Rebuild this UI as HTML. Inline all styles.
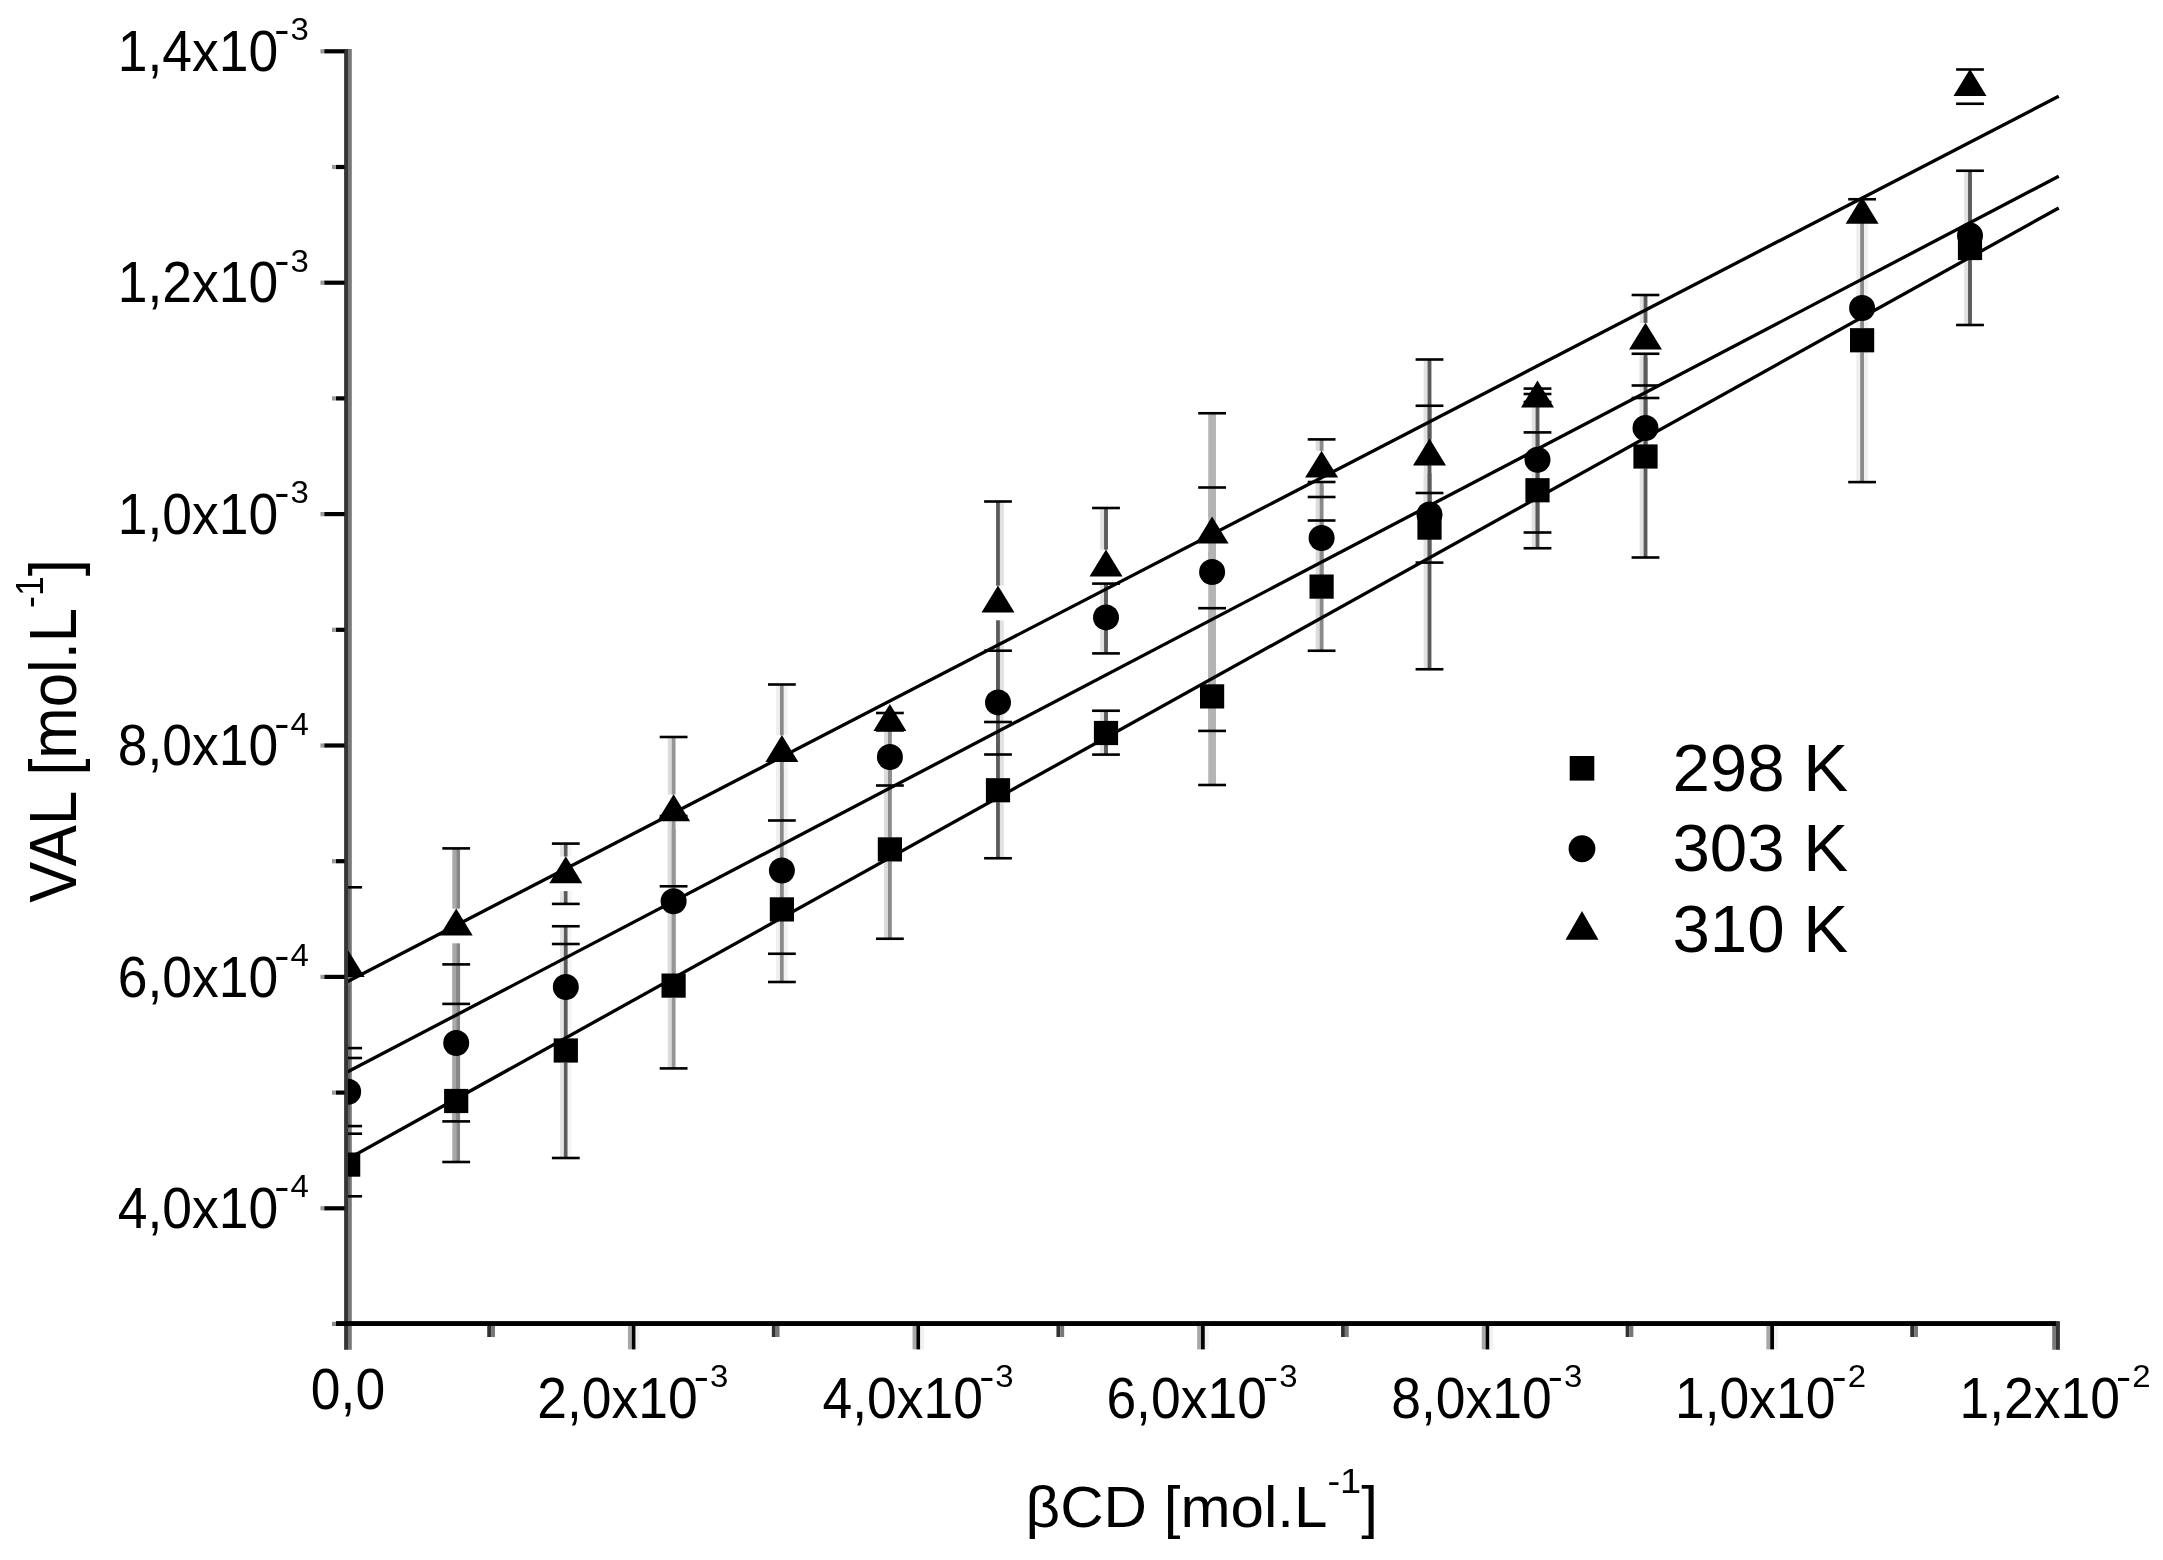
<!DOCTYPE html>
<html lang="en"><head><meta charset="utf-8"><title>VAL solubility vs βCD</title>
<style>html,body{margin:0;padding:0;background:#fff}svg{display:block}svg text{font-family:"Liberation Sans",sans-serif}</style></head>
<body>
<svg width="2163" height="1560" viewBox="0 0 2163 1560"  fill="#000">
<rect width="2163" height="1560" fill="#fff"/>
<defs><clipPath id="plot"><rect x="348.1" y="0" width="1720" height="1321"/></clipPath><filter id="soft" x="0" y="0" width="100%" height="100%" filterUnits="userSpaceOnUse"><feGaussianBlur stdDeviation="0.5"/></filter></defs>
<g filter="url(#soft)">
<rect width="2163" height="1560" fill="#fff"/>
<rect x="344.10" y="49.00" width="3.90" height="1300.80" fill="#363636"/>
<rect x="348.00" y="49.00" width="3.80" height="1300.80" fill="#787878"/>
<rect x="324.20" y="49.20" width="20.40" height="4.20" fill="#000"/>
<rect x="320.40" y="49.20" width="3.80" height="4.20" fill="#9a9a9a"/>
<rect x="335.80" y="164.90" width="8.80" height="4.20" fill="#000"/>
<rect x="332.00" y="164.90" width="3.80" height="4.20" fill="#9a9a9a"/>
<rect x="324.20" y="280.60" width="20.40" height="4.20" fill="#000"/>
<rect x="320.40" y="280.60" width="3.80" height="4.20" fill="#9a9a9a"/>
<rect x="335.80" y="396.30" width="8.80" height="4.20" fill="#000"/>
<rect x="332.00" y="396.30" width="3.80" height="4.20" fill="#9a9a9a"/>
<rect x="324.20" y="512.00" width="20.40" height="4.20" fill="#000"/>
<rect x="320.40" y="512.00" width="3.80" height="4.20" fill="#9a9a9a"/>
<rect x="335.80" y="627.70" width="8.80" height="4.20" fill="#000"/>
<rect x="332.00" y="627.70" width="3.80" height="4.20" fill="#9a9a9a"/>
<rect x="324.20" y="743.40" width="20.40" height="4.20" fill="#000"/>
<rect x="320.40" y="743.40" width="3.80" height="4.20" fill="#9a9a9a"/>
<rect x="335.80" y="859.10" width="8.80" height="4.20" fill="#000"/>
<rect x="332.00" y="859.10" width="3.80" height="4.20" fill="#9a9a9a"/>
<rect x="324.20" y="974.80" width="20.40" height="4.20" fill="#000"/>
<rect x="320.40" y="974.80" width="3.80" height="4.20" fill="#9a9a9a"/>
<rect x="335.80" y="1090.50" width="8.80" height="4.20" fill="#000"/>
<rect x="332.00" y="1090.50" width="3.80" height="4.20" fill="#9a9a9a"/>
<rect x="324.20" y="1206.20" width="20.40" height="4.20" fill="#000"/>
<rect x="320.40" y="1206.20" width="3.80" height="4.20" fill="#9a9a9a"/>
<rect x="336.00" y="1321.10" width="1720.20" height="4.90" fill="#000"/>
<rect x="332.00" y="1321.80" width="4.00" height="4.20" fill="#8a8a8a"/>
<rect x="487.24" y="1326.00" width="3.86" height="11.00" fill="#333"/>
<rect x="491.10" y="1326.00" width="3.86" height="11.00" fill="#777"/>
<rect x="627.94" y="1326.00" width="3.86" height="23.40" fill="#a8a8a8"/>
<rect x="631.80" y="1326.00" width="3.86" height="23.40" fill="#000"/>
<rect x="635.66" y="1326.00" width="3.86" height="23.40" fill="#f2f2f2"/>
<rect x="771.84" y="1326.00" width="3.86" height="11.00" fill="#333"/>
<rect x="775.70" y="1326.00" width="3.86" height="11.00" fill="#777"/>
<rect x="912.54" y="1326.00" width="3.86" height="23.40" fill="#a8a8a8"/>
<rect x="916.40" y="1326.00" width="3.86" height="23.40" fill="#000"/>
<rect x="920.26" y="1326.00" width="3.86" height="23.40" fill="#f2f2f2"/>
<rect x="1056.44" y="1326.00" width="3.86" height="11.00" fill="#333"/>
<rect x="1060.30" y="1326.00" width="3.86" height="11.00" fill="#777"/>
<rect x="1197.14" y="1326.00" width="3.86" height="23.40" fill="#a8a8a8"/>
<rect x="1201.00" y="1326.00" width="3.86" height="23.40" fill="#000"/>
<rect x="1204.86" y="1326.00" width="3.86" height="23.40" fill="#f2f2f2"/>
<rect x="1341.04" y="1326.00" width="3.86" height="11.00" fill="#333"/>
<rect x="1344.90" y="1326.00" width="3.86" height="11.00" fill="#777"/>
<rect x="1481.74" y="1326.00" width="3.86" height="23.40" fill="#a8a8a8"/>
<rect x="1485.60" y="1326.00" width="3.86" height="23.40" fill="#000"/>
<rect x="1489.46" y="1326.00" width="3.86" height="23.40" fill="#f2f2f2"/>
<rect x="1625.64" y="1326.00" width="3.86" height="11.00" fill="#333"/>
<rect x="1629.50" y="1326.00" width="3.86" height="11.00" fill="#777"/>
<rect x="1766.34" y="1326.00" width="3.86" height="23.40" fill="#a8a8a8"/>
<rect x="1770.20" y="1326.00" width="3.86" height="23.40" fill="#000"/>
<rect x="1774.06" y="1326.00" width="3.86" height="23.40" fill="#f2f2f2"/>
<rect x="1910.24" y="1326.00" width="3.86" height="11.00" fill="#333"/>
<rect x="1914.10" y="1326.00" width="3.86" height="11.00" fill="#777"/>
<rect x="2052.20" y="1326.00" width="3.80" height="23.80" fill="#7a7a7a"/>
<rect x="2056.00" y="1321.10" width="3.90" height="28.70" fill="#363636"/>
<g clip-path="url(#plot)">
<rect x="346.22" y="1133.70" width="3.86" height="18.90" fill="#666"/>
<rect x="346.22" y="1176.60" width="3.86" height="19.70" fill="#666"/>
<rect x="452.34" y="1040.00" width="3.86" height="49.00" fill="#a8a8a8"/>
<rect x="452.34" y="1113.00" width="3.86" height="49.00" fill="#a8a8a8"/>
<rect x="456.20" y="1040.00" width="3.86" height="49.00" fill="#868686"/>
<rect x="456.20" y="1113.00" width="3.86" height="49.00" fill="#868686"/>
<rect x="560.01" y="944.00" width="3.86" height="94.50" fill="#e4e4e4"/>
<rect x="560.01" y="1062.50" width="3.86" height="95.50" fill="#e4e4e4"/>
<rect x="563.87" y="944.00" width="3.86" height="94.50" fill="#5a5a5a"/>
<rect x="563.87" y="1062.50" width="3.86" height="95.50" fill="#5a5a5a"/>
<rect x="567.73" y="944.00" width="3.86" height="94.50" fill="#f6f6f6"/>
<rect x="567.73" y="1062.50" width="3.86" height="95.50" fill="#f6f6f6"/>
<rect x="667.81" y="902.90" width="3.86" height="70.70" fill="#dcdcdc"/>
<rect x="667.81" y="997.60" width="3.86" height="70.80" fill="#dcdcdc"/>
<rect x="671.67" y="902.90" width="3.86" height="70.70" fill="#959595"/>
<rect x="671.67" y="997.60" width="3.86" height="70.80" fill="#959595"/>
<rect x="776.11" y="865.00" width="3.86" height="32.40" fill="#efefef"/>
<rect x="776.11" y="921.40" width="3.86" height="32.35" fill="#efefef"/>
<rect x="779.97" y="865.00" width="3.86" height="32.40" fill="#8a8a8a"/>
<rect x="779.97" y="921.40" width="3.86" height="32.35" fill="#8a8a8a"/>
<rect x="783.83" y="865.00" width="3.86" height="32.40" fill="#f2f2f2"/>
<rect x="783.83" y="921.40" width="3.86" height="32.35" fill="#f2f2f2"/>
<rect x="884.11" y="760.00" width="3.86" height="77.40" fill="#dcdcdc"/>
<rect x="884.11" y="861.40" width="3.86" height="77.35" fill="#dcdcdc"/>
<rect x="887.97" y="760.00" width="3.86" height="77.40" fill="#8c8c8c"/>
<rect x="887.97" y="861.40" width="3.86" height="77.35" fill="#8c8c8c"/>
<rect x="996.07" y="722.00" width="3.86" height="56.25" fill="#5a5a5a"/>
<rect x="996.07" y="802.25" width="3.86" height="56.00" fill="#5a5a5a"/>
<rect x="999.93" y="722.00" width="3.86" height="56.25" fill="#e2e2e2"/>
<rect x="999.93" y="802.25" width="3.86" height="56.00" fill="#e2e2e2"/>
<rect x="1100.21" y="710.75" width="3.86" height="10.25" fill="#e2e2e2"/>
<rect x="1100.21" y="745.00" width="3.86" height="9.60" fill="#e2e2e2"/>
<rect x="1104.07" y="710.75" width="3.86" height="10.25" fill="#5a5a5a"/>
<rect x="1104.07" y="745.00" width="3.86" height="9.60" fill="#5a5a5a"/>
<rect x="1208.24" y="608.20" width="7.72" height="76.20" fill="#b4b4b4"/>
<rect x="1208.24" y="708.40" width="7.72" height="76.60" fill="#b4b4b4"/>
<rect x="1315.81" y="520.50" width="3.86" height="54.10" fill="#dcdcdc"/>
<rect x="1315.81" y="598.60" width="3.86" height="52.15" fill="#dcdcdc"/>
<rect x="1319.67" y="520.50" width="3.86" height="54.10" fill="#8a8a8a"/>
<rect x="1319.67" y="598.60" width="3.86" height="52.15" fill="#8a8a8a"/>
<rect x="1423.71" y="493.00" width="3.86" height="22.60" fill="#e2e2e2"/>
<rect x="1423.71" y="539.60" width="3.86" height="23.00" fill="#e2e2e2"/>
<rect x="1427.57" y="493.00" width="3.86" height="22.60" fill="#5a5a5a"/>
<rect x="1427.57" y="539.60" width="3.86" height="23.00" fill="#5a5a5a"/>
<rect x="1531.71" y="432.40" width="3.86" height="45.85" fill="#e2e2e2"/>
<rect x="1531.71" y="502.25" width="3.86" height="46.00" fill="#e2e2e2"/>
<rect x="1535.57" y="432.40" width="3.86" height="45.85" fill="#5a5a5a"/>
<rect x="1535.57" y="502.25" width="3.86" height="46.00" fill="#5a5a5a"/>
<rect x="1639.71" y="353.75" width="3.86" height="90.75" fill="#e2e2e2"/>
<rect x="1639.71" y="468.50" width="3.86" height="89.00" fill="#e2e2e2"/>
<rect x="1643.57" y="353.75" width="3.86" height="90.75" fill="#5a5a5a"/>
<rect x="1643.57" y="468.50" width="3.86" height="89.00" fill="#5a5a5a"/>
<rect x="1856.31" y="199.25" width="3.86" height="129.00" fill="#eeeeee"/>
<rect x="1856.31" y="352.25" width="3.86" height="129.85" fill="#eeeeee"/>
<rect x="1860.17" y="199.25" width="3.86" height="129.00" fill="#8a8a8a"/>
<rect x="1860.17" y="352.25" width="3.86" height="129.85" fill="#8a8a8a"/>
<rect x="1864.03" y="199.25" width="3.86" height="129.00" fill="#f0f0f0"/>
<rect x="1864.03" y="352.25" width="3.86" height="129.85" fill="#f0f0f0"/>
<rect x="1964.21" y="170.75" width="3.86" height="65.25" fill="#e2e2e2"/>
<rect x="1964.21" y="260.00" width="3.86" height="65.00" fill="#e2e2e2"/>
<rect x="1968.07" y="170.75" width="3.86" height="65.25" fill="#5a5a5a"/>
<rect x="1968.07" y="260.00" width="3.86" height="65.00" fill="#5a5a5a"/>
<rect x="346.22" y="1058.00" width="3.86" height="21.80" fill="#666"/>
<rect x="346.22" y="1103.80" width="3.86" height="22.30" fill="#666"/>
<rect x="452.34" y="964.40" width="3.86" height="66.60" fill="#a8a8a8"/>
<rect x="452.34" y="1055.00" width="3.86" height="66.40" fill="#a8a8a8"/>
<rect x="456.20" y="964.40" width="3.86" height="66.60" fill="#868686"/>
<rect x="456.20" y="1055.00" width="3.86" height="66.40" fill="#868686"/>
<rect x="560.01" y="926.25" width="3.86" height="48.75" fill="#e4e4e4"/>
<rect x="560.01" y="999.00" width="3.86" height="48.75" fill="#e4e4e4"/>
<rect x="563.87" y="926.25" width="3.86" height="48.75" fill="#5a5a5a"/>
<rect x="563.87" y="999.00" width="3.86" height="48.75" fill="#5a5a5a"/>
<rect x="567.73" y="926.25" width="3.86" height="48.75" fill="#f6f6f6"/>
<rect x="567.73" y="999.00" width="3.86" height="48.75" fill="#f6f6f6"/>
<rect x="667.81" y="816.00" width="3.86" height="73.25" fill="#dcdcdc"/>
<rect x="667.81" y="913.25" width="3.86" height="72.75" fill="#dcdcdc"/>
<rect x="671.67" y="816.00" width="3.86" height="73.25" fill="#959595"/>
<rect x="671.67" y="913.25" width="3.86" height="72.75" fill="#959595"/>
<rect x="776.11" y="759.00" width="3.86" height="99.50" fill="#efefef"/>
<rect x="776.11" y="882.50" width="3.86" height="99.50" fill="#efefef"/>
<rect x="779.97" y="759.00" width="3.86" height="99.50" fill="#8a8a8a"/>
<rect x="779.97" y="882.50" width="3.86" height="99.50" fill="#8a8a8a"/>
<rect x="783.83" y="759.00" width="3.86" height="99.50" fill="#f2f2f2"/>
<rect x="783.83" y="882.50" width="3.86" height="99.50" fill="#f2f2f2"/>
<rect x="884.11" y="728.50" width="3.86" height="16.50" fill="#dcdcdc"/>
<rect x="884.11" y="769.00" width="3.86" height="16.50" fill="#dcdcdc"/>
<rect x="887.97" y="728.50" width="3.86" height="16.50" fill="#8c8c8c"/>
<rect x="887.97" y="769.00" width="3.86" height="16.50" fill="#8c8c8c"/>
<rect x="996.07" y="650.70" width="3.86" height="39.70" fill="#5a5a5a"/>
<rect x="996.07" y="714.40" width="3.86" height="40.10" fill="#5a5a5a"/>
<rect x="999.93" y="650.70" width="3.86" height="39.70" fill="#e2e2e2"/>
<rect x="999.93" y="714.40" width="3.86" height="40.10" fill="#e2e2e2"/>
<rect x="1100.21" y="583.60" width="3.86" height="21.80" fill="#e2e2e2"/>
<rect x="1100.21" y="629.40" width="3.86" height="24.00" fill="#e2e2e2"/>
<rect x="1104.07" y="583.60" width="3.86" height="21.80" fill="#5a5a5a"/>
<rect x="1104.07" y="629.40" width="3.86" height="24.00" fill="#5a5a5a"/>
<rect x="1208.24" y="413.25" width="7.72" height="146.75" fill="#b4b4b4"/>
<rect x="1208.24" y="584.00" width="7.72" height="146.90" fill="#b4b4b4"/>
<rect x="1315.81" y="482.00" width="3.86" height="44.00" fill="#dcdcdc"/>
<rect x="1315.81" y="550.00" width="3.86" height="44.00" fill="#dcdcdc"/>
<rect x="1319.67" y="482.00" width="3.86" height="44.00" fill="#8a8a8a"/>
<rect x="1319.67" y="550.00" width="3.86" height="44.00" fill="#8a8a8a"/>
<rect x="1423.71" y="359.50" width="3.86" height="142.90" fill="#e2e2e2"/>
<rect x="1423.71" y="526.40" width="3.86" height="142.85" fill="#e2e2e2"/>
<rect x="1427.57" y="359.50" width="3.86" height="142.90" fill="#5a5a5a"/>
<rect x="1427.57" y="526.40" width="3.86" height="142.85" fill="#5a5a5a"/>
<rect x="1531.71" y="388.60" width="3.86" height="59.15" fill="#e2e2e2"/>
<rect x="1531.71" y="471.75" width="3.86" height="60.75" fill="#e2e2e2"/>
<rect x="1535.57" y="388.60" width="3.86" height="59.15" fill="#5a5a5a"/>
<rect x="1535.57" y="471.75" width="3.86" height="60.75" fill="#5a5a5a"/>
<rect x="1639.71" y="398.00" width="3.86" height="18.00" fill="#e2e2e2"/>
<rect x="1639.71" y="440.00" width="3.86" height="18.00" fill="#e2e2e2"/>
<rect x="1643.57" y="398.00" width="3.86" height="18.00" fill="#5a5a5a"/>
<rect x="1643.57" y="440.00" width="3.86" height="18.00" fill="#5a5a5a"/>
<rect x="346.22" y="887.30" width="3.86" height="63.10" fill="#666"/>
<rect x="346.22" y="985.00" width="3.86" height="63.10" fill="#666"/>
<rect x="452.34" y="848.40" width="3.86" height="60.30" fill="#a8a8a8"/>
<rect x="452.34" y="943.30" width="3.86" height="60.60" fill="#a8a8a8"/>
<rect x="456.20" y="848.40" width="3.86" height="60.30" fill="#868686"/>
<rect x="456.20" y="943.30" width="3.86" height="60.60" fill="#868686"/>
<rect x="560.01" y="843.60" width="3.86" height="12.90" fill="#e4e4e4"/>
<rect x="560.01" y="891.10" width="3.86" height="12.80" fill="#e4e4e4"/>
<rect x="563.87" y="843.60" width="3.86" height="12.90" fill="#5a5a5a"/>
<rect x="563.87" y="891.10" width="3.86" height="12.80" fill="#5a5a5a"/>
<rect x="567.73" y="843.60" width="3.86" height="12.90" fill="#f6f6f6"/>
<rect x="567.73" y="891.10" width="3.86" height="12.80" fill="#f6f6f6"/>
<rect x="667.81" y="737.00" width="3.86" height="57.50" fill="#dcdcdc"/>
<rect x="667.81" y="829.10" width="3.86" height="57.20" fill="#dcdcdc"/>
<rect x="671.67" y="737.00" width="3.86" height="57.50" fill="#959595"/>
<rect x="671.67" y="829.10" width="3.86" height="57.20" fill="#959595"/>
<rect x="776.11" y="684.50" width="3.86" height="50.80" fill="#efefef"/>
<rect x="776.11" y="769.90" width="3.86" height="50.60" fill="#efefef"/>
<rect x="779.97" y="684.50" width="3.86" height="50.80" fill="#8a8a8a"/>
<rect x="779.97" y="769.90" width="3.86" height="50.60" fill="#8a8a8a"/>
<rect x="783.83" y="684.50" width="3.86" height="50.80" fill="#f2f2f2"/>
<rect x="783.83" y="769.90" width="3.86" height="50.60" fill="#f2f2f2"/>
<rect x="996.07" y="501.50" width="3.86" height="84.20" fill="#5a5a5a"/>
<rect x="996.07" y="620.30" width="3.86" height="84.20" fill="#5a5a5a"/>
<rect x="999.93" y="501.50" width="3.86" height="84.20" fill="#e2e2e2"/>
<rect x="999.93" y="620.30" width="3.86" height="84.20" fill="#e2e2e2"/>
<rect x="1100.21" y="508.00" width="3.86" height="41.70" fill="#e2e2e2"/>
<rect x="1100.21" y="584.30" width="3.86" height="41.70" fill="#e2e2e2"/>
<rect x="1104.07" y="508.00" width="3.86" height="41.70" fill="#5a5a5a"/>
<rect x="1104.07" y="584.30" width="3.86" height="41.70" fill="#5a5a5a"/>
<rect x="1208.24" y="487.50" width="7.72" height="29.20" fill="#b4b4b4"/>
<rect x="1208.24" y="551.30" width="7.72" height="29.20" fill="#b4b4b4"/>
<rect x="1315.81" y="439.40" width="3.86" height="11.50" fill="#dcdcdc"/>
<rect x="1315.81" y="485.50" width="3.86" height="11.50" fill="#dcdcdc"/>
<rect x="1319.67" y="439.40" width="3.86" height="11.50" fill="#8a8a8a"/>
<rect x="1319.67" y="485.50" width="3.86" height="11.50" fill="#8a8a8a"/>
<rect x="1423.71" y="405.75" width="3.86" height="32.95" fill="#e2e2e2"/>
<rect x="1423.71" y="473.30" width="3.86" height="32.70" fill="#e2e2e2"/>
<rect x="1427.57" y="405.75" width="3.86" height="32.95" fill="#5a5a5a"/>
<rect x="1427.57" y="473.30" width="3.86" height="32.70" fill="#5a5a5a"/>
<rect x="1639.71" y="295.00" width="3.86" height="27.90" fill="#e2e2e2"/>
<rect x="1639.71" y="357.50" width="3.86" height="28.00" fill="#e2e2e2"/>
<rect x="1643.57" y="295.00" width="3.86" height="27.90" fill="#5a5a5a"/>
<rect x="1643.57" y="357.50" width="3.86" height="28.00" fill="#5a5a5a"/>
<rect x="334.25" y="1132.40" width="27.80" height="2.60" fill="#000"/>
<rect x="334.25" y="1195.00" width="27.80" height="2.60" fill="#000"/>
<rect x="442.30" y="1160.70" width="27.80" height="2.60" fill="#000"/>
<rect x="551.90" y="942.70" width="27.80" height="2.60" fill="#000"/>
<rect x="551.90" y="1156.70" width="27.80" height="2.60" fill="#000"/>
<rect x="659.70" y="1067.10" width="27.80" height="2.60" fill="#000"/>
<rect x="768.00" y="952.45" width="27.80" height="2.60" fill="#000"/>
<rect x="876.00" y="937.45" width="27.80" height="2.60" fill="#000"/>
<rect x="984.10" y="720.70" width="27.80" height="2.60" fill="#000"/>
<rect x="984.10" y="856.95" width="27.80" height="2.60" fill="#000"/>
<rect x="1092.10" y="709.45" width="27.80" height="2.60" fill="#000"/>
<rect x="1092.10" y="753.30" width="27.80" height="2.60" fill="#000"/>
<rect x="1198.20" y="606.90" width="27.80" height="2.60" fill="#000"/>
<rect x="1198.20" y="783.70" width="27.80" height="2.60" fill="#000"/>
<rect x="1307.70" y="519.20" width="27.80" height="2.60" fill="#000"/>
<rect x="1307.70" y="649.45" width="27.80" height="2.60" fill="#000"/>
<rect x="1415.60" y="491.70" width="27.80" height="2.60" fill="#000"/>
<rect x="1415.60" y="561.30" width="27.80" height="2.60" fill="#000"/>
<rect x="1523.60" y="431.10" width="27.80" height="2.60" fill="#000"/>
<rect x="1523.60" y="546.95" width="27.80" height="2.60" fill="#000"/>
<rect x="1631.60" y="352.45" width="27.80" height="2.60" fill="#000"/>
<rect x="1631.60" y="556.20" width="27.80" height="2.60" fill="#000"/>
<rect x="1848.20" y="197.95" width="27.80" height="2.60" fill="#000"/>
<rect x="1848.20" y="480.80" width="27.80" height="2.60" fill="#000"/>
<rect x="1956.10" y="169.45" width="27.80" height="2.60" fill="#000"/>
<rect x="1956.10" y="323.70" width="27.80" height="2.60" fill="#000"/>
<rect x="334.25" y="1056.70" width="27.80" height="2.60" fill="#000"/>
<rect x="334.25" y="1124.80" width="27.80" height="2.60" fill="#000"/>
<rect x="442.30" y="963.10" width="27.80" height="2.60" fill="#000"/>
<rect x="442.30" y="1120.10" width="27.80" height="2.60" fill="#000"/>
<rect x="551.90" y="924.95" width="27.80" height="2.60" fill="#000"/>
<rect x="659.70" y="814.70" width="27.80" height="2.60" fill="#000"/>
<rect x="768.00" y="757.70" width="27.80" height="2.60" fill="#000"/>
<rect x="768.00" y="980.70" width="27.80" height="2.60" fill="#000"/>
<rect x="876.00" y="727.20" width="27.80" height="2.60" fill="#000"/>
<rect x="876.00" y="784.20" width="27.80" height="2.60" fill="#000"/>
<rect x="984.10" y="649.40" width="27.80" height="2.60" fill="#000"/>
<rect x="984.10" y="753.20" width="27.80" height="2.60" fill="#000"/>
<rect x="1092.10" y="582.30" width="27.80" height="2.60" fill="#000"/>
<rect x="1092.10" y="652.10" width="27.80" height="2.60" fill="#000"/>
<rect x="1198.20" y="411.95" width="27.80" height="2.60" fill="#000"/>
<rect x="1198.20" y="729.60" width="27.80" height="2.60" fill="#000"/>
<rect x="1307.70" y="480.70" width="27.80" height="2.60" fill="#000"/>
<rect x="1415.60" y="358.20" width="27.80" height="2.60" fill="#000"/>
<rect x="1415.60" y="667.95" width="27.80" height="2.60" fill="#000"/>
<rect x="1523.60" y="387.30" width="27.80" height="2.60" fill="#000"/>
<rect x="1523.60" y="531.20" width="27.80" height="2.60" fill="#000"/>
<rect x="1631.60" y="396.70" width="27.80" height="2.60" fill="#000"/>
<rect x="334.25" y="886.00" width="27.80" height="2.60" fill="#000"/>
<rect x="334.25" y="1046.80" width="27.80" height="2.60" fill="#000"/>
<rect x="442.30" y="847.10" width="27.80" height="2.60" fill="#000"/>
<rect x="442.30" y="1002.60" width="27.80" height="2.60" fill="#000"/>
<rect x="551.90" y="842.30" width="27.80" height="2.60" fill="#000"/>
<rect x="551.90" y="902.60" width="27.80" height="2.60" fill="#000"/>
<rect x="659.70" y="735.70" width="27.80" height="2.60" fill="#000"/>
<rect x="659.70" y="885.00" width="27.80" height="2.60" fill="#000"/>
<rect x="768.00" y="683.20" width="27.80" height="2.60" fill="#000"/>
<rect x="768.00" y="819.20" width="27.80" height="2.60" fill="#000"/>
<rect x="876.00" y="711.70" width="27.80" height="2.60" fill="#000"/>
<rect x="876.00" y="729.20" width="27.80" height="2.60" fill="#000"/>
<rect x="984.10" y="500.20" width="27.80" height="2.60" fill="#000"/>
<rect x="1092.10" y="506.70" width="27.80" height="2.60" fill="#000"/>
<rect x="1198.20" y="486.20" width="27.80" height="2.60" fill="#000"/>
<rect x="1307.70" y="438.10" width="27.80" height="2.60" fill="#000"/>
<rect x="1307.70" y="495.70" width="27.80" height="2.60" fill="#000"/>
<rect x="1415.60" y="404.45" width="27.80" height="2.60" fill="#000"/>
<rect x="1523.60" y="392.70" width="27.80" height="2.60" fill="#000"/>
<rect x="1523.60" y="400.70" width="27.80" height="2.60" fill="#000"/>
<rect x="1631.60" y="293.70" width="27.80" height="2.60" fill="#000"/>
<rect x="1631.60" y="384.20" width="27.80" height="2.60" fill="#000"/>
<rect x="1956.10" y="68.20" width="27.80" height="2.60" fill="#000"/>
<rect x="1956.10" y="102.45" width="27.80" height="2.60" fill="#000"/>
</g>
<g clip-path="url(#plot)">
<line x1="338.20" y1="986.37" x2="2058.75" y2="96.25" stroke="#000" stroke-width="3.3"/>
<line x1="338.20" y1="1076.83" x2="2058.75" y2="176.25" stroke="#000" stroke-width="3.3"/>
<line x1="338.20" y1="1164.36" x2="2058.75" y2="208.0" stroke="#000" stroke-width="3.3"/>
<rect x="336.05" y="1152.50" width="24.20" height="24.20" fill="#000"/>
<rect x="444.10" y="1088.90" width="24.20" height="24.20" fill="#000"/>
<rect x="553.70" y="1038.40" width="24.20" height="24.20" fill="#000"/>
<rect x="661.50" y="973.50" width="24.20" height="24.20" fill="#000"/>
<rect x="769.80" y="897.30" width="24.20" height="24.20" fill="#000"/>
<rect x="877.80" y="837.30" width="24.20" height="24.20" fill="#000"/>
<rect x="985.90" y="778.15" width="24.20" height="24.20" fill="#000"/>
<rect x="1093.90" y="720.90" width="24.20" height="24.20" fill="#000"/>
<rect x="1200.00" y="684.30" width="24.20" height="24.20" fill="#000"/>
<rect x="1309.50" y="574.50" width="24.20" height="24.20" fill="#000"/>
<rect x="1417.40" y="515.50" width="24.20" height="24.20" fill="#000"/>
<rect x="1525.40" y="478.15" width="24.20" height="24.20" fill="#000"/>
<rect x="1633.40" y="444.40" width="24.20" height="24.20" fill="#000"/>
<rect x="1850.00" y="328.15" width="24.20" height="24.20" fill="#000"/>
<rect x="1957.90" y="235.90" width="24.20" height="24.20" fill="#000"/>
<circle cx="348.15" cy="1091.80" r="13.0" fill="#000"/>
<circle cx="456.20" cy="1043.00" r="13.0" fill="#000"/>
<circle cx="565.80" cy="987.00" r="13.0" fill="#000"/>
<circle cx="673.60" cy="901.25" r="13.0" fill="#000"/>
<circle cx="781.90" cy="870.50" r="13.0" fill="#000"/>
<circle cx="889.90" cy="757.00" r="13.0" fill="#000"/>
<circle cx="998.00" cy="702.40" r="13.0" fill="#000"/>
<circle cx="1106.00" cy="617.40" r="13.0" fill="#000"/>
<circle cx="1212.10" cy="572.00" r="13.0" fill="#000"/>
<circle cx="1321.60" cy="538.00" r="13.0" fill="#000"/>
<circle cx="1429.50" cy="514.40" r="13.0" fill="#000"/>
<circle cx="1537.50" cy="459.75" r="13.0" fill="#000"/>
<circle cx="1645.50" cy="428.00" r="13.0" fill="#000"/>
<circle cx="1862.10" cy="308.00" r="13.0" fill="#000"/>
<circle cx="1970.00" cy="235.60" r="13.0" fill="#000"/>
<polygon points="348.15,950.20 364.65,977.10 331.65,977.10" fill="#000"/>
<polygon points="456.20,908.50 472.70,935.40 439.70,935.40" fill="#000"/>
<polygon points="565.80,856.30 582.30,883.20 549.30,883.20" fill="#000"/>
<polygon points="673.60,794.30 690.10,821.20 657.10,821.20" fill="#000"/>
<polygon points="781.90,735.10 798.40,762.00 765.40,762.00" fill="#000"/>
<polygon points="889.90,704.00 906.40,730.90 873.40,730.90" fill="#000"/>
<polygon points="998.00,585.50 1014.50,612.40 981.50,612.40" fill="#000"/>
<polygon points="1106.00,549.50 1122.50,576.40 1089.50,576.40" fill="#000"/>
<polygon points="1212.10,516.50 1228.60,543.40 1195.60,543.40" fill="#000"/>
<polygon points="1321.60,450.70 1338.10,477.60 1305.10,477.60" fill="#000"/>
<polygon points="1429.50,438.50 1446.00,465.40 1413.00,465.40" fill="#000"/>
<polygon points="1537.50,380.50 1554.00,407.40 1521.00,407.40" fill="#000"/>
<polygon points="1645.50,322.70 1662.00,349.60 1629.00,349.60" fill="#000"/>
<polygon points="1862.10,196.80 1878.60,223.70 1845.60,223.70" fill="#000"/>
<polygon points="1970.00,69.10 1986.50,96.00 1953.50,96.00" fill="#000"/>
</g>
<rect x="1569.70" y="756.00" width="24.60" height="24.60" fill="#000"/>
<circle cx="1582.00" cy="848.75" r="13.4" fill="#000"/>
<polygon points="1582,911 1598.5,939.7 1565.5,939.7" fill="#000"/>
<g>
<text transform="translate(117.70,70.90) scale(0.99,1.065)" font-size="54">1,4x10</text>
<text transform="translate(274.30,42.90) scale(1.2,1)" font-size="38">-</text>
<text transform="translate(290.45,40.40) scale(1.1,1.065)" font-size="30">3</text>
</g>
<g>
<text transform="translate(117.70,302.30) scale(0.99,1.065)" font-size="54">1,2x10</text>
<text transform="translate(274.30,274.30) scale(1.2,1)" font-size="38">-</text>
<text transform="translate(290.45,271.80) scale(1.1,1.065)" font-size="30">3</text>
</g>
<g>
<text transform="translate(117.70,533.70) scale(0.99,1.065)" font-size="54">1,0x10</text>
<text transform="translate(274.30,505.70) scale(1.2,1)" font-size="38">-</text>
<text transform="translate(290.45,503.20) scale(1.1,1.065)" font-size="30">3</text>
</g>
<g>
<text transform="translate(117.70,765.10) scale(0.99,1.065)" font-size="54">8,0x10</text>
<text transform="translate(274.30,737.10) scale(1.2,1)" font-size="38">-</text>
<text transform="translate(290.45,734.60) scale(1.1,1.065)" font-size="30">4</text>
</g>
<g>
<text transform="translate(117.70,996.50) scale(0.99,1.065)" font-size="54">6,0x10</text>
<text transform="translate(274.30,968.50) scale(1.2,1)" font-size="38">-</text>
<text transform="translate(290.45,966.00) scale(1.1,1.065)" font-size="30">4</text>
</g>
<g>
<text transform="translate(117.70,1227.90) scale(0.99,1.065)" font-size="54">4,0x10</text>
<text transform="translate(274.30,1199.90) scale(1.2,1)" font-size="38">-</text>
<text transform="translate(290.45,1197.40) scale(1.1,1.065)" font-size="30">4</text>
</g>
<g>
<text transform="translate(310.85,1409.00) scale(0.99,1.065)" font-size="54">0,0</text>
</g>
<g>
<text transform="translate(537.21,1417.80) scale(0.99,1.065)" font-size="54">2,0x10</text>
<text transform="translate(693.81,1389.80) scale(1.2,1)" font-size="38">-</text>
<text transform="translate(709.96,1387.30) scale(1.1,1.065)" font-size="30">3</text>
</g>
<g>
<text transform="translate(822.54,1417.80) scale(0.99,1.065)" font-size="54">4,0x10</text>
<text transform="translate(979.14,1389.80) scale(1.2,1)" font-size="38">-</text>
<text transform="translate(995.29,1387.30) scale(1.1,1.065)" font-size="30">3</text>
</g>
<g>
<text transform="translate(1106.39,1417.80) scale(0.99,1.065)" font-size="54">6,0x10</text>
<text transform="translate(1262.99,1389.80) scale(1.2,1)" font-size="38">-</text>
<text transform="translate(1279.14,1387.30) scale(1.1,1.065)" font-size="30">3</text>
</g>
<g>
<text transform="translate(1391.20,1417.80) scale(0.99,1.065)" font-size="54">8,0x10</text>
<text transform="translate(1547.80,1389.80) scale(1.2,1)" font-size="38">-</text>
<text transform="translate(1563.95,1387.30) scale(1.1,1.065)" font-size="30">3</text>
</g>
<g>
<text transform="translate(1674.92,1417.80) scale(0.99,1.065)" font-size="54">1,0x10</text>
<text transform="translate(1831.52,1389.80) scale(1.2,1)" font-size="38">-</text>
<text transform="translate(1847.67,1387.30) scale(1.1,1.065)" font-size="30">2</text>
</g>
<g>
<text transform="translate(1959.52,1417.80) scale(0.99,1.065)" font-size="54">1,2x10</text>
<text transform="translate(2116.12,1389.80) scale(1.2,1)" font-size="38">-</text>
<text transform="translate(2132.27,1387.30) scale(1.1,1.065)" font-size="30">2</text>
</g>
<text transform="translate(1025.6,1526.6) scale(1.055,1)" font-size="57">βCD [mol.L<tspan font-size="36" dy="-33.5">-1</tspan><tspan dy="33.5">]</tspan></text>
<text transform="translate(75.5,902.7) rotate(-90) scale(0.9637,1.04)" font-size="64">VAL [mol.L<tspan font-size="37" dy="-31">-1</tspan><tspan dy="31">]</tspan></text>
<text x="1672.4" y="790.8" font-size="67.3">298 K</text>
<text x="1672.4" y="870.8" font-size="67.3">303 K</text>
<text x="1672.4" y="952" font-size="67.3">310 K</text>
</g>
</svg>
</body></html>
